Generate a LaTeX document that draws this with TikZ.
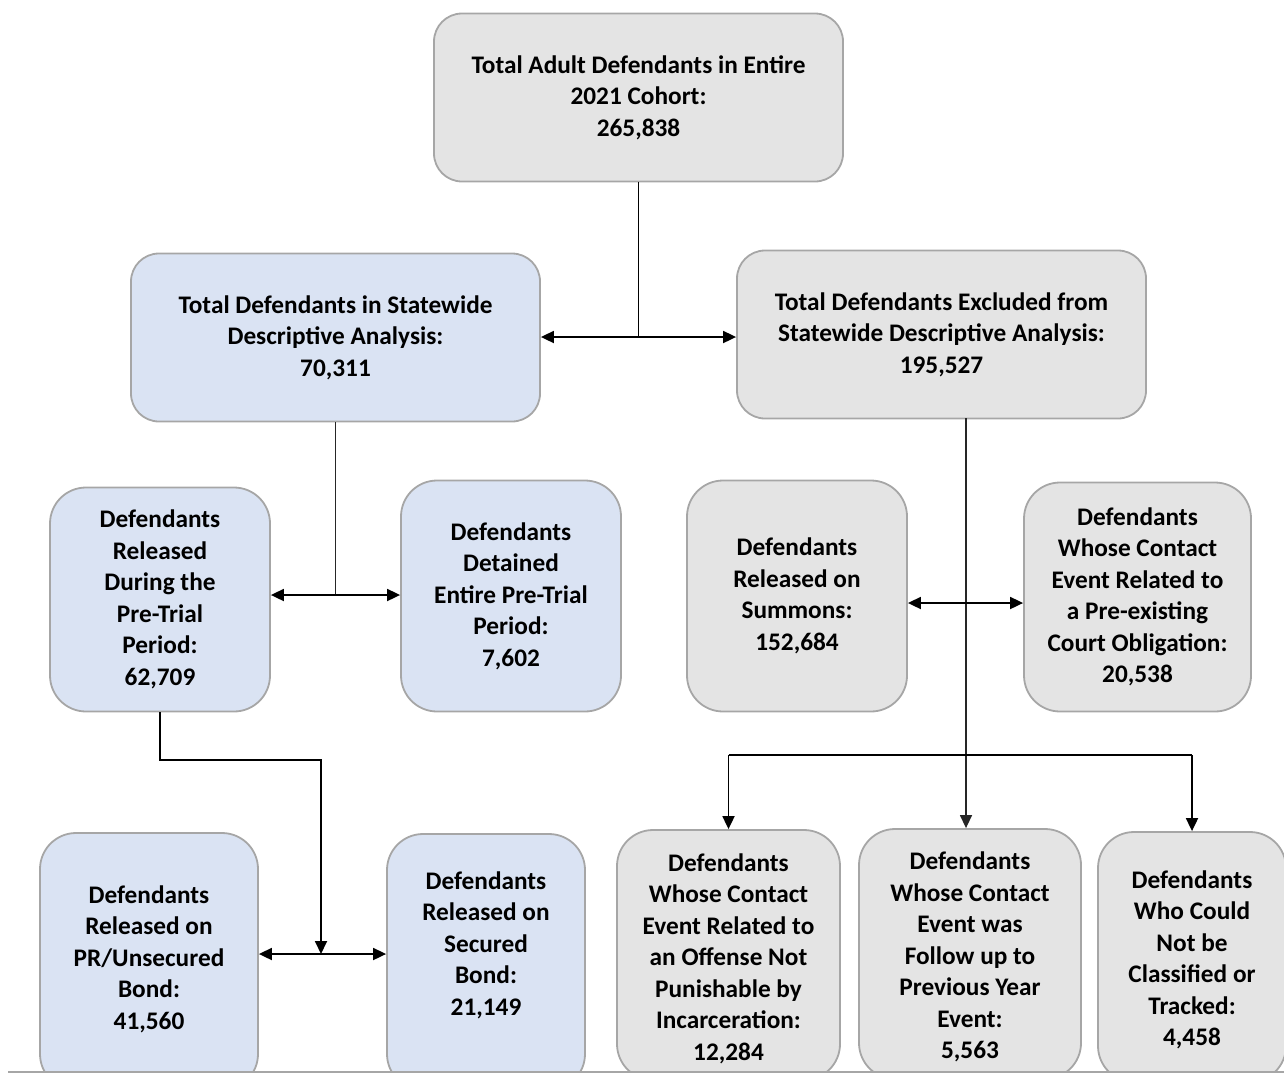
\documentclass[tikz,border=0pt]{standalone}
\usepackage{fontspec}
\setmainfont{Carlito}
\usetikzlibrary{arrows.meta}
\definecolor{gfill}{HTML}{E4E4E4}
\definecolor{bfill}{HTML}{DAE3F3}
\definecolor{bord}{HTML}{A6A6A6}
\begin{document}
\begin{tikzpicture}[x=1pt,y=-1pt,
  box/.style={draw=bord, line width=1.8pt, rounded corners=#1, align=center, inner sep=0pt,
              font=\bfseries\fontsize{25.3}{31.5}\selectfont},
  box/.default=36pt,
  gbox/.style={box=#1, fill=gfill}, gbox/.default=36pt,
  bbox/.style={box=#1, fill=bfill}, bbox/.default=36pt,
  txt/.style={align=center, inner sep=0pt, font=\bfseries\fontsize{25.3}{31.5}\selectfont},
  conn/.style={line width=1.8pt, black},
  thin/.style={line width=1.4pt, black!85},
  tip/.tip={Triangle[length=13pt,width=12pt]},
  arr/.style={conn, -tip},
  darr/.style={conn, tip-tip}]
\useasboundingbox (0,0) rectangle (1284,1074);
\begin{scope}
\clip (0,0) rectangle (1284,1072);
% boxes
\node[gbox=28pt, minimum width=409pt, minimum height=168pt] (top) at (638.5,97.5)
  {Total Adult Defendants in Entire\\2021 Cohort:\\265,838};
\node[bbox=28pt, minimum width=409pt, minimum height=168pt] (stat) at (335.5,337.5)
  {Total Defendants in Statewide\\Descriptive Analysis:\\70,311};
\node[gbox=28pt, minimum width=409pt, minimum height=168pt] (excl) at (941.5,334.5)
  {Total Defendants Excluded from\\Statewide Descriptive Analysis:\\195,527};
\node[bbox, minimum width=220pt, minimum height=224pt] (rel) at (160,599.5)
  {Defendants\\Released\\During the\\Pre-Trial\\Period:\\62,709};
\node[bbox, minimum width=220pt, minimum height=231pt] (det) at (511,596)
  {Defendants\\Detained\\Entire Pre-Trial\\Period:\\7,602};
\node[gbox, minimum width=220pt, minimum height=231pt] (sum) at (797,596)
  {Defendants\\Released on\\Summons:\\152,684};
\node[gbox, minimum width=227pt, minimum height=229pt] (pre) at (1137.5,597)
  {Defendants\\Whose Contact\\Event Related to\\a Pre-existing\\Court Obligation:\\20,538};
\node[bbox, minimum width=218pt, minimum height=257pt] (pr) at (149,961.5) {};
\node[txt] (prtxt) at (149,959) {Defendants\\Released on\\PR/Unsecured\\Bond:\\41,560};
\node[bbox, minimum width=198pt, minimum height=256pt] (sec) at (486,962) {};
\node[txt] (sectxt) at (486,945) {Defendants\\Released on\\Secured\\Bond:\\21,149};
\node[gbox, minimum width=223pt, minimum height=250pt] (off) at (728.5,955) {};
\node[txt] (offtxt) at (728.5,958.5)
  {Defendants\\Whose Contact\\Event Related to\\an Offense Not\\Punishable by\\Incarceration:\\12,284};
\node[gbox, minimum width=222pt, minimum height=250pt] (fol) at (970,954) {};
\node[txt] (foltxt) at (970,957)
  {Defendants\\Whose Contact\\Event was\\Follow up to\\Previous Year\\Event:\\5,563};
\node[gbox, minimum width=188pt, minimum height=250pt] (cnb) at (1192,957) {};
\node[txt] (cnbtxt) at (1192,960)
  {Defendants\\Who Could\\Not be\\Classified or\\Tracked:\\4,458};
\end{scope}
% connectors
\coordinate (j1) at (638.5,337);
\draw[conn] (top.south) -- (j1);
\draw[darr] (j1 -| stat.east) -- (j1 -| excl.west);
\coordinate (j2) at (335.5,595);
\draw[thin] (stat.south) -- (j2);
\draw[darr] (j2 -| rel.east) -- (j2 -| det.west);
\coordinate (k1) at (321,760);
\coordinate (j3) at (321,954);
\draw[arr] (rel.south) |- (k1) -- (j3);
\draw[darr] (j3 -| pr.east) -- (j3 -| sec.west);
\coordinate (e1) at (966,418);
\draw[thin, -tip] (e1) -- (e1 |- fol.north);
\coordinate (j4) at (966,603);
\draw[darr] (j4 -| sum.east) -- (j4 -| pre.west);
\coordinate (j5) at (966,755);
\draw[conn] (j5 -| off.north) -- (j5 -| cnb.north);
\draw[arr] (j5 -| off.north) -- (off.north);
\draw[arr] (j5 -| cnb.north) -- (cnb.north);
% bottom cut line
\coordinate (b1) at (8,1072);
\coordinate (b2) at (1284,1072);
\draw[line width=1.5pt, black!35] (b1) -- (b2);
\end{tikzpicture}
\end{document}
